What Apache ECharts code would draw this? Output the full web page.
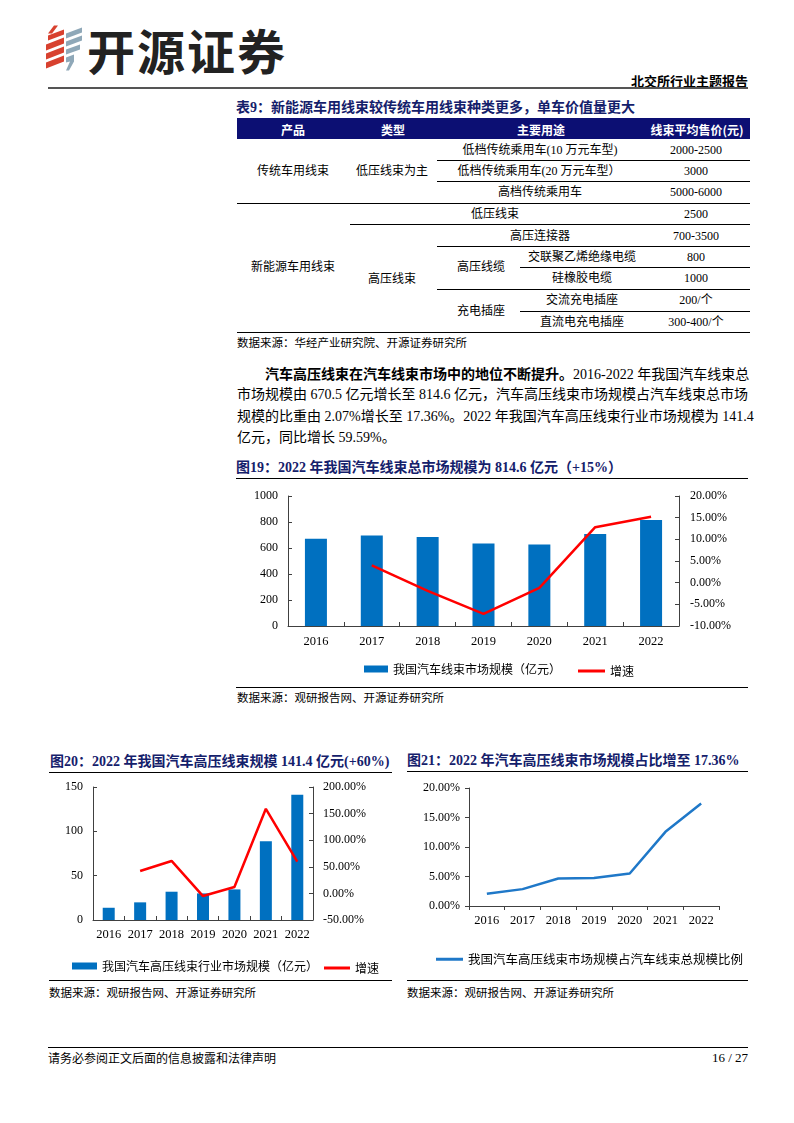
<!DOCTYPE html>
<html><head><meta charset="utf-8">
<script src="https://cdn.jsdelivr.net/npm/echarts@6/dist/echarts.min.js"></script>
<style>
html,body{margin:0;padding:0;background:#fff;}
#page{position:relative;width:794px;height:1123px;overflow:hidden;font-family:"Liberation Serif","Noto Sans CJK SC",serif;color:#000;}
.a{position:absolute;white-space:nowrap;}
.c{position:absolute;white-space:nowrap;transform:translate(-50%,-50%);font-size:12px;line-height:14px;}
.hl{position:absolute;height:0;border-top:1px solid #000;}
.title{position:absolute;white-space:nowrap;font-size:14px;font-weight:bold;color:#14206b;line-height:16px;}
.src{position:absolute;white-space:nowrap;font-size:11.5px;line-height:14px;font-family:"Noto Sans CJK SC";}
.para{position:absolute;left:237px;width:511px;font-size:14px;line-height:16px;text-align:justify;text-align-last:justify;white-space:nowrap;}
.hd{position:absolute;transform:translate(-50%,-50%);color:#fff;font-weight:bold;font-size:12px;white-space:nowrap;font-family:"Noto Sans CJK SC";}
</style></head>
<body><div id="page">
<!-- header logo -->
<svg class="a" style="left:44px;top:25px" width="42" height="47" viewBox="0 0 42 46">
  <g fill="#d8412f">
    <polygon points="10,0 14,0 8,8 4,8"/>
    <polygon points="4,10 20,4 20,9 4,15"/>
    <polygon points="2,19 20,12 20,18 2,25"/>
    <polygon points="2,28 20,21 20,27 2,34"/>
    <polygon points="2,37 20,30 20,36 2,43"/>
  </g>
  <g fill="#8fa8b8">
    <polygon points="22,8 38,2 38,7 22,13"/>
    <polygon points="22,16 38,10 38,15 22,21"/>
    <polygon points="22,24 36,19 36,24 22,29"/>
    <polygon points="22,32 30,29 30,36 25,45 22,45 26,36 22,37"/>
  </g>
</svg>
<div class="a" style="left:87px;top:23px;font-family:'Noto Sans CJK SC';font-weight:bold;font-size:48px;line-height:52px;letter-spacing:2px;color:#222;">开源证券</div>
<div class="a" style="right:46px;top:73px;font-family:'Noto Sans CJK SC';font-weight:bold;font-size:13px;line-height:16px;">北交所行业主题报告</div>
<div class="a" style="left:48px;top:87px;width:700px;height:2px;background:#555;"></div>

<!-- table -->
<div class="title" style="left:236px;top:100px;">表9：新能源车用线束较传统车用线束种类更多，单车价值量更大</div>
<div class="a" style="left:237px;top:118px;width:513px;height:21px;background:#0c0f73;"></div>
<div class="hd" style="left:293px;top:129px;">产品</div>
<div class="hd" style="left:393px;top:129px;">类型</div>
<div class="hd" style="left:541px;top:129px;">主要用途</div>
<div class="hd" style="left:697px;top:129px;">线束平均售价(元)</div>

<div class="hl" style="left:437px;width:313px;top:160px;"></div>
<div class="hl" style="left:437px;width:313px;top:181px;"></div>
<div class="hl" style="left:237px;width:513px;top:203px;"></div>
<div class="hl" style="left:350px;width:400px;top:224px;"></div>
<div class="hl" style="left:437px;width:313px;top:246px;"></div>
<div class="hl" style="left:520px;width:230px;top:267px;"></div>
<div class="hl" style="left:437px;width:313px;top:289px;"></div>
<div class="hl" style="left:520px;width:230px;top:311px;"></div>
<div class="hl" style="left:237px;width:513px;top:332px;"></div>

<div class="c" style="left:293px;top:171px;">传统车用线束</div>
<div class="c" style="left:392px;top:171px;">低压线束为主</div>
<div class="c" style="left:540px;top:150px;">低档传统乘用车(10 万元车型)</div>
<div class="c" style="left:539px;top:171px;">低档传统乘用车(20 万元车型）</div>
<div class="c" style="left:540px;top:192px;">高档传统乘用车</div>
<div class="c" style="left:696px;top:150px;">2000-2500</div>
<div class="c" style="left:696px;top:171px;">3000</div>
<div class="c" style="left:696px;top:192px;">5000-6000</div>
<div class="c" style="left:293px;top:267px;">新能源车用线束</div>
<div class="c" style="left:495px;top:214px;">低压线束</div>
<div class="c" style="left:696px;top:214px;">2500</div>
<div class="c" style="left:392px;top:279px;">高压线束</div>
<div class="c" style="left:540px;top:236px;">高压连接器</div>
<div class="c" style="left:696px;top:236px;">700-3500</div>
<div class="c" style="left:481px;top:267px;">高压线缆</div>
<div class="c" style="left:582px;top:257px;">交联聚乙烯绝缘电缆</div>
<div class="c" style="left:696px;top:257px;">800</div>
<div class="c" style="left:582px;top:278px;">硅橡胶电缆</div>
<div class="c" style="left:696px;top:278px;">1000</div>
<div class="c" style="left:481px;top:311px;">充电插座</div>
<div class="c" style="left:582px;top:300px;">交流充电插座</div>
<div class="c" style="left:696px;top:300px;">200/个</div>
<div class="c" style="left:582px;top:322px;">直流电充电插座</div>
<div class="c" style="left:696px;top:322px;">300-400/个</div>
<div class="src" style="left:237px;top:335px;">数据来源：华经产业研究院、开源证券研究所</div>

<!-- paragraph -->
<div class="para" style="top:365px;left:265px;width:483px;"><b style="font-family:'Noto Sans CJK SC'">汽车高压线束在汽车线束市场中的地位不断提升。</b>2016-2022 年我国汽车线束总</div>
<div class="para" style="top:387px;">市场规模由 670.5 亿元增长至 814.6 亿元，汽车高压线束市场规模占汽车线束总市场</div>
<div class="para" style="top:409px;">规模的比重由 2.07%增长至 17.36%。2022 年我国汽车高压线束行业市场规模为 141.4</div>
<div class="para" style="top:430px;text-align-last:left;">亿元，同比增长 59.59%。</div>

<!-- chart 19 -->
<div class="title" style="left:236px;top:460px;">图19：2022 年我国汽车线束总市场规模为 814.6 亿元（+15%）</div>
<div class="hl" style="left:236px;width:512px;top:478px;"></div>
<div id="c1" class="a" style="left:237px;top:480px;width:513px;height:205px;"></div>
<div class="hl" style="left:236px;width:512px;top:687px;"></div>
<div class="src" style="left:237px;top:690px;">数据来源：观研报告网、开源证券研究所</div>

<!-- chart 20 -->
<div class="title" style="left:50px;top:754px;">图20：2022 年我国汽车高压线束规模 141.4 亿元(+60%)</div>
<div class="hl" style="left:49px;width:343px;top:772px;"></div>
<div id="c2" class="a" style="left:40px;top:775px;width:355px;height:200px;"></div>
<div class="hl" style="left:49px;width:343px;top:980px;"></div>
<div class="src" style="left:49px;top:985px;">数据来源：观研报告网、开源证券研究所</div>

<!-- chart 21 -->
<div class="title" style="left:407px;top:753px;">图21：2022 年汽车高压线束市场规模占比增至 17.36%</div>
<div class="hl" style="left:407px;width:341px;top:771px;"></div>
<div id="c3" class="a" style="left:400px;top:775px;width:355px;height:200px;"></div>
<div class="hl" style="left:407px;width:341px;top:980px;"></div>
<div class="src" style="left:407px;top:985px;">数据来源：观研报告网、开源证券研究所</div>

<!-- footer -->
<div class="hl" style="left:48px;width:700px;top:1047px;"></div>
<div class="a" style="left:48px;top:1050px;font-size:12px;line-height:15px;font-family:'Noto Sans CJK SC';">请务必参阅正文后面的信息披露和法律声明</div>
<div class="a" style="right:46px;top:1050px;font-size:13px;line-height:15px;">16 / 27</div>
</div>
<script>
const years = ['2016','2017','2018','2019','2020','2021','2022'];
// 图19: 汽车线束总市场规模（亿元）及增速（%）
const harnessMarket = [670.5, 697, 684, 635, 627, 707, 814.6];
const harnessGrowth = [null, 4.0, -1.9, -7.2, -1.2, 12.8, 15.2];
// 图20: 汽车高压线束行业市场规模（亿元）及增速（%）
const hvMarket = [13.8, 19.9, 31.9, 30.0, 34.5, 88.9, 141.4];
const hvGrowth = [null, 42, 61, -5, 12, 159, 59.59];
// 图21: 高压线束占汽车线束总规模比例（%）
const hvShare = [2.07, 2.86, 4.66, 4.74, 5.5, 12.57, 17.36];

const legendBar1 = '我国汽车线束市场规模（亿元）';
const legendBar2 = '我国汽车高压线束行业市场规模（亿元）';
const legendLine = '增速';
const legendShare = '我国汽车高压线束市场规模占汽车线束总规模比例';

const AX = '#404040';
const numFont = {fontFamily:'Liberation Serif', fontSize:12, color:'#000'};
const cjkText = {fontFamily:'Noto Sans CJK SC', fontSize:12, color:'#000'};
const pct = v => v.toFixed(2) + '%';
const plain = v => String(v);

function valAxis(opt, pos, margin, inside, fmt){
  return Object.assign({
    type:'value', position:pos,
    axisLine:{show:true, lineStyle:{color:AX, width:1}},
    axisTick:{show:true, inside:inside, length:4, lineStyle:{color:AX}},
    splitLine:{show:false},
    axisLabel:Object.assign({margin:margin, formatter:fmt || plain}, numFont)
  }, opt);
}
function catAxis(inside, margin){
  return {type:'category', data:years,
    axisLine:{lineStyle:{color:AX, width:1}},
    axisTick:{show:true, inside:inside, length:4, lineStyle:{color:AX}},
    axisLabel:Object.assign({margin:margin, interval:0, hideOverlap:false}, numFont, {fontSize:12.5})};
}

const c1 = echarts.init(document.getElementById('c1'), null, {renderer:'canvas'});
c1.setOption({
  animation:false,
  grid:{left:51, top:16, width:391, height:130},
  legend:[
    {left:122, top:178, itemWidth:24, itemHeight:7, textStyle:cjkText, data:[{name:legendBar1, icon:'rect'}]},
    {left:336, top:180, itemWidth:27, itemHeight:3, textStyle:cjkText, data:[{name:legendLine, icon:'rect'}]}
  ],
  xAxis:catAxis(true, 9),
  yAxis:[
    valAxis({min:0, max:1000, interval:200}, 'left', 10, true),
    valAxis({min:-10, max:20, interval:5}, 'right', 11, true, pct)
  ],
  series:[
    {name:legendBar1, type:'bar', data:harnessMarket, barWidth:22, itemStyle:{color:'#0070c0'}},
    {name:legendLine, type:'line', yAxisIndex:1, data:harnessGrowth, symbol:'none', lineStyle:{color:'#ff0000', width:2.5}, itemStyle:{color:'#ff0000'}}
  ]
});

const c2 = echarts.init(document.getElementById('c2'), null, {renderer:'canvas'});
c2.setOption({
  animation:false,
  grid:{left:53, top:12, width:220, height:133},
  legend:[
    {left:27, top:180, itemWidth:25, itemHeight:7, textStyle:cjkText, data:[{name:legendBar2, icon:'rect'}]},
    {left:279, top:182, itemWidth:26, itemHeight:3, textStyle:cjkText, data:[{name:legendLine, icon:'rect'}]}
  ],
  xAxis:catAxis(true, 8),
  yAxis:[
    valAxis({min:0, max:150, interval:50}, 'left', 10, true),
    valAxis({min:-50, max:200, interval:50}, 'right', 10, true, pct)
  ],
  series:[
    {name:legendBar2, type:'bar', data:hvMarket, barWidth:12, itemStyle:{color:'#0070c0'}},
    {name:legendLine, type:'line', yAxisIndex:1, data:hvGrowth, symbol:'none', lineStyle:{color:'#ff0000', width:2.5}, itemStyle:{color:'#ff0000'}}
  ]
});

const c3 = echarts.init(document.getElementById('c3'), null, {renderer:'canvas'});
c3.setOption({
  animation:false,
  grid:{left:69, top:13, width:250, height:118},
  legend:{left:31, top:173, itemWidth:27, itemHeight:3, itemGap:4, textStyle:Object.assign({}, cjkText, {fontSize:12.5}), data:[{name:legendShare, icon:'rect'}]},
  xAxis:catAxis(false, 8),
  yAxis:valAxis({min:0, max:20, interval:5}, 'left', 9, false, pct),
  series:[
    {name:legendShare, type:'line', data:hvShare, symbol:'none', lineStyle:{color:'#1f78c8', width:2.5}, itemStyle:{color:'#1f78c8'}}
  ]
});
</script>
</body></html>
